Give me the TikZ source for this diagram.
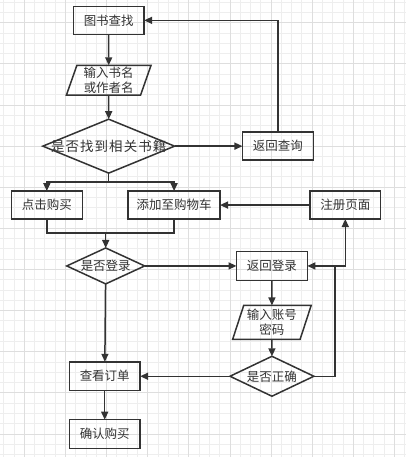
\documentclass[tikz,border=0pt]{standalone}
\usepackage{fontspec}
\setmainfont{Noto Sans CJK SC}
\newfontfamily\widecjk[LetterSpace=8]{Noto Sans CJK SC}
\usepackage{xcolor}
\usetikzlibrary{positioning}
\usetikzlibrary{shapes.geometric}
\usetikzlibrary{arrows.meta}
\definecolor{linegray}{HTML}{333333}
\definecolor{gridminor}{HTML}{EEEEEE}
\definecolor{gridmajor}{HTML}{DEDEDE}

\begin{document}
\begin{tikzpicture}[x=1pt, y=-1pt,
  font=\fontsize{12.5pt}{15.5pt}\selectfont,
  box/.style={draw=linegray, text=linegray, line width=1.5pt, minimum width=71pt, minimum height=28pt, inner sep=0pt, outer sep=0pt},
  io/.style={trapezium, trapezium left angle=73, trapezium right angle=107, trapezium stretches=true, draw=linegray, text=linegray, line width=1.5pt, inner sep=0pt, outer sep=0pt, align=center},
  choice/.style={diamond, draw=linegray, text=linegray, line width=1.5pt, inner sep=0pt, outer sep=0pt},
  flow/.style={draw=linegray, line width=1.5pt, -{Triangle[length=8pt,width=7pt]}},
  link/.style={draw=linegray, line width=1.5pt}]
% background grid
\fill[white] (0,0) rectangle (406,457);
\foreach \k in {0,...,39} \draw[gridminor, line width=0.8pt] (3.3+10.3*\k,0) -- ++(0,457);
\foreach \k in {0,...,44} \draw[gridminor, line width=0.8pt] (0,1.7+10.3*\k) -- ++(406,0);
\foreach \k in {2,6,...,38} \draw[gridmajor, line width=0.8pt] (3.3+10.3*\k,0) -- ++(0,457);
\foreach \k in {2,6,...,42} \draw[gridmajor, line width=0.8pt] (0,1.7+10.3*\k) -- ++(406,0);
\useasboundingbox (0,0) rectangle (406,457);
% search part
\node[box] (find) at (108.5,20) {图书查找};
\node[io, minimum width=85pt, minimum height=30pt] (title) [below=31pt of find] {输入书名\\或作者名};
\node[choice, inner xsep=-22pt, aspect=2.44, minimum width=132pt, minimum height=54pt, font=\fontsize{13.5pt}{15pt}\widecjk] (found) [below=24pt of title] {是否找到相关书籍};
\node[box] (retry) [right=68pt of found] {返回查询};
% buy part
\node[box] (buy) [below=18pt of found, xshift=-62pt] {点击购买};
\node[box, minimum width=92pt] (cart) [right=46pt of buy] {添加至购物车};
\node[box] (signup) [right=90pt of cart] {注册页面};
% login part
\node[choice, aspect=2.17, minimum width=78pt, minimum height=36pt] (logged) [below=29pt of buy, xshift=59pt] {是否登录};
\node[box, minimum height=29pt] (relogin) [right=92pt of logged] {返回登录};
\node[io, trapezium left angle=70, trapezium right angle=110, minimum width=79pt, minimum height=34pt] (account) [below=25pt of relogin] {输入账号\\密码};
\node[choice, aspect=2.1, minimum width=84pt, minimum height=40pt] (correct) [below=17pt of account] {是否正确};
\node[box, minimum height=29pt] (order) [left=90pt of correct] {查看订单};
\node[box, minimum height=29pt] (confirm) [below=29pt of order] {确认购买};
% helper points
\path (found.south) ++(0,9) coordinate (split);
\path (buy.south) ++(0,14) coordinate (merge);
\path (correct.east) ++(21,0) coordinate (turn);
% arrows
\draw[flow] (find) -- (title);
\draw[flow] (title) -- (found);
\draw[flow] (found) -- (retry);
\draw[flow] (retry.north) |- (find.east);
\draw[link] (found.south) -- (split);
\draw[flow] (split) -| (buy.north);
\draw[flow] (split) -| (cart.north);
\draw[flow] (signup) -- (cart);
\draw[link] (buy.south) -- (merge) -- (cart.south |- merge) -- (cart.south);
\draw[flow] (logged.north |- merge) -- (logged.north);
\draw[flow] (logged) -- (relogin);
\draw[flow] (logged) -- (order);
\draw[flow] (relogin) -- (account);
\draw[flow] (account) -- (correct);
\draw[flow] (correct) -- (order);
\draw[link] (correct.east) -- (turn) -- (turn |- relogin.east);
\draw[flow] (turn |- relogin.east) -- (relogin.east);
\draw[flow] (turn |- relogin.east) -| (signup.south);
\draw[flow] (order) -- (confirm);
\end{tikzpicture}
\end{document}
